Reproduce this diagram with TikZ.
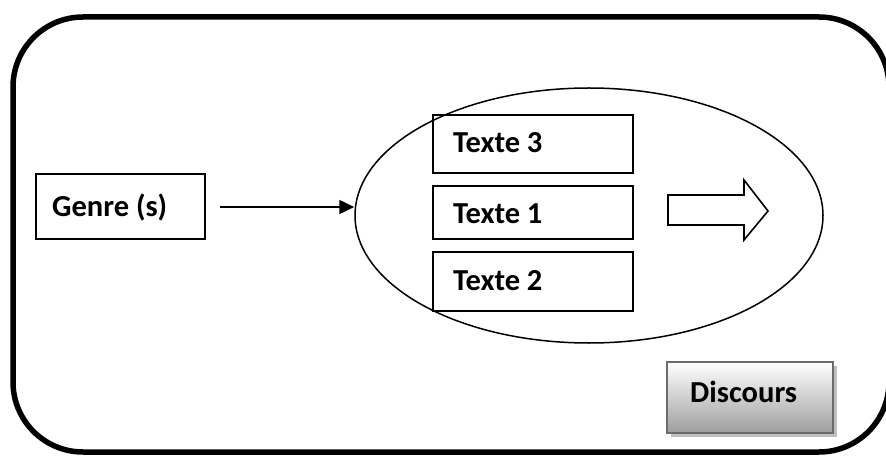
\documentclass[tikz,border=0pt]{standalone}
\usepackage{fontspec}
\setmainfont{Carlito}
\usetikzlibrary{arrows.meta,shapes.geometric}
\tikzset{
  frame/.style={line width=5.5pt, rounded corners=70pt},
  txtbox/.style={draw, line width=1.6pt, minimum width=200pt, minimum height=56pt, inner sep=0pt},
  lbl/.style={font=\fontsize{30.5}{33}\selectfont\bfseries, anchor=base west, inner sep=0pt},
  conn/.style={line width=1.5pt, -{Triangle[length=15pt,width=14pt]}},
}
\begin{document}
\begin{tikzpicture}[x=1pt,y=-1pt]
\useasboundingbox (0,0) rectangle (886,457);
\begin{scope}
\clip (0,0) rectangle (886,457);
\draw[frame] (13,17) rectangle (889,452);
\end{scope}
% Genre box
\node[draw, line width=2.2pt, minimum width=169pt, minimum height=65pt, inner sep=0pt] (genre) at (120.5,206.5) {};
\node[lbl] (genret) at (52,217) {Genre (s)};
% ellipse
\node[draw, ellipse, line width=1.5pt, minimum width=468pt, minimum height=255pt, inner sep=0pt] (ell) at (589,215.5) {};
% texte boxes
\node[txtbox, minimum height=58pt] (t3) at (533,144) {};
\node[txtbox, minimum height=53pt] (t1) at (533,212.5) {};
\node[txtbox, minimum height=59pt] (t2) at (533,281.5) {};
\node[lbl] (t3t) at (453,153) {Texte 3};
\node[lbl] (t1t) at (453,224) {Texte 1};
\node[lbl] (t2t) at (453,290) {Texte 2};
% arrow
\coordinate (astart) at (220,207);
\draw[conn] (astart) -- (ell.west |- astart);
% block arrow
\draw[line width=1.6pt, line join=miter] (668,195) -- (744,195) -- (744,180) -- (768,211) -- (744,240) -- (744,225) -- (668,225) -- cycle;
% Discours
\fill[black!25] (671,366) rectangle (837,437);
\node[draw=black!58, line width=2pt, minimum width=166pt, minimum height=71pt, inner sep=0pt, top color=white, bottom color=black!38] (disc) at (750,397.5) {};
\node[lbl] (disct) at (690,402) {Discours};
\end{tikzpicture}
\end{document}
